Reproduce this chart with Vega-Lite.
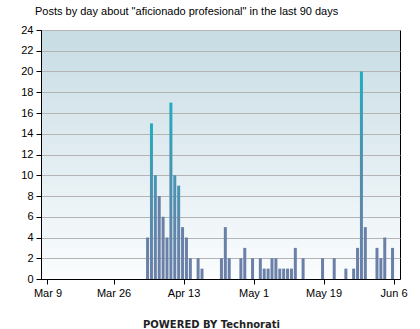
{
  "$schema": "https://vega.github.io/schema/vega-lite/v6.json",
  "width": 359,
  "height": 249,
  "autosize": "none",
  "padding": {"left": 41, "top": 30, "right": 20, "bottom": 50},
  "background": "white",
  "title": {
    "text": "Posts by day about \"aficionado profesional\" in the last 90 days",
    "anchor": "start",
    "frame": "group",
    "dx": -6,
    "offset": 7,
    "font": "Liberation Sans",
    "fontSize": 11,
    "fontWeight": "normal",
    "color": "#000000"
  },
  "config": {
    "view": {
      "stroke": "#000000",
      "strokeWidth": 1,
      "fill": {
        "gradient": "linear",
        "x1": 0, "y1": 0, "x2": 0, "y2": 1,
        "stops": [
          {"offset": 0, "color": "#c7dce4"},
          {"offset": 1, "color": "#fbfdfe"}
        ]
      }
    },
    "axis": {
      "labelFont": "Liberation Sans",
      "labelFontSize": 11,
      "labelColor": "#000000",
      "domainColor": "#000000",
      "tickColor": "#000000",
      "tickSize": 5,
      "labelPadding": 3
    }
  },
  "data": {
    "values": [
      {"date": "2008-04-04", "posts": 4},
      {"date": "2008-04-05", "posts": 15},
      {"date": "2008-04-06", "posts": 10},
      {"date": "2008-04-07", "posts": 8},
      {"date": "2008-04-08", "posts": 6},
      {"date": "2008-04-09", "posts": 4},
      {"date": "2008-04-10", "posts": 17},
      {"date": "2008-04-11", "posts": 10},
      {"date": "2008-04-12", "posts": 9},
      {"date": "2008-04-13", "posts": 5},
      {"date": "2008-04-14", "posts": 4},
      {"date": "2008-04-15", "posts": 2},
      {"date": "2008-04-17", "posts": 2},
      {"date": "2008-04-18", "posts": 1},
      {"date": "2008-04-23", "posts": 2},
      {"date": "2008-04-24", "posts": 5},
      {"date": "2008-04-25", "posts": 2},
      {"date": "2008-04-28", "posts": 2},
      {"date": "2008-04-29", "posts": 3},
      {"date": "2008-05-01", "posts": 2},
      {"date": "2008-05-03", "posts": 2},
      {"date": "2008-05-04", "posts": 1},
      {"date": "2008-05-05", "posts": 1},
      {"date": "2008-05-06", "posts": 2},
      {"date": "2008-05-07", "posts": 2},
      {"date": "2008-05-08", "posts": 1},
      {"date": "2008-05-09", "posts": 1},
      {"date": "2008-05-10", "posts": 1},
      {"date": "2008-05-11", "posts": 1},
      {"date": "2008-05-12", "posts": 3},
      {"date": "2008-05-14", "posts": 2},
      {"date": "2008-05-19", "posts": 2},
      {"date": "2008-05-22", "posts": 2},
      {"date": "2008-05-25", "posts": 1},
      {"date": "2008-05-27", "posts": 1},
      {"date": "2008-05-28", "posts": 3},
      {"date": "2008-05-29", "posts": 20},
      {"date": "2008-05-30", "posts": 5},
      {"date": "2008-06-02", "posts": 3},
      {"date": "2008-06-03", "posts": 2},
      {"date": "2008-06-04", "posts": 4},
      {"date": "2008-06-06", "posts": 3}
    ]
  },
  "mark": {
    "type": "bar",
    "width": 3,
    "xOffset": -1
  },
  "encoding": {
    "x": {
      "field": "date",
      "type": "temporal",
      "scale": {
        "type": "utc",
        "domain": [
          {"year": 2008, "month": 3, "date": 8, "hours": 15, "utc": true},
          {"year": 2008, "month": 6, "date": 6, "hours": 9, "utc": true}
        ]
      },
      "axis": {
        "values": [
          {"year": 2008, "month": 3, "date": 9, "utc": true},
          {"year": 2008, "month": 3, "date": 26, "utc": true},
          {"year": 2008, "month": 4, "date": 13, "utc": true},
          {"year": 2008, "month": 5, "date": 1, "utc": true},
          {"year": 2008, "month": 5, "date": 19, "utc": true},
          {"year": 2008, "month": 6, "date": 6, "utc": true}
        ],
        "format": "%b %-d",
        "grid": false,
        "labelFlush": false,
        "labelOverlap": false,
        "title": "POWERED BY   Technorati",
        "titleFont": "DejaVu Sans",
        "titleFontSize": 10,
        "titleFontWeight": "bold",
        "titleColor": "#222222",
        "titlePadding": 21,
        "titleX": 170
      }
    },
    "y": {
      "field": "posts",
      "type": "quantitative",
      "scale": {"domain": [0, 24], "nice": false},
      "axis": {
        "values": [0, 2, 4, 6, 8, 10, 12, 14, 16, 18, 20, 22, 24],
        "grid": true,
        "gridColor": "#b4b4b4",
        "gridWidth": 1,
        "gridOpacity": 1,
        "title": null
      }
    },
    "fill": {
      "condition": [
        {
          "test": "datum.posts >= 15",
          "value": {
            "gradient": "linear",
            "x1": 0, "y1": 0, "x2": 0, "y2": 1,
            "stops": [
              {"offset": 0, "color": "#22adbf"},
              {"offset": 0.45, "color": "#4f8fae"},
              {"offset": 1, "color": "#6a80a8"}
            ]
          }
        },
        {
          "test": "datum.posts >= 9",
          "value": {
            "gradient": "linear",
            "x1": 0, "y1": 0, "x2": 0, "y2": 1,
            "stops": [
              {"offset": 0, "color": "#4596b4"},
              {"offset": 0.5, "color": "#5f86ab"},
              {"offset": 1, "color": "#6a80a8"}
            ]
          }
        }
      ],
      "value": "#6a80a8"
    }
  }
}
